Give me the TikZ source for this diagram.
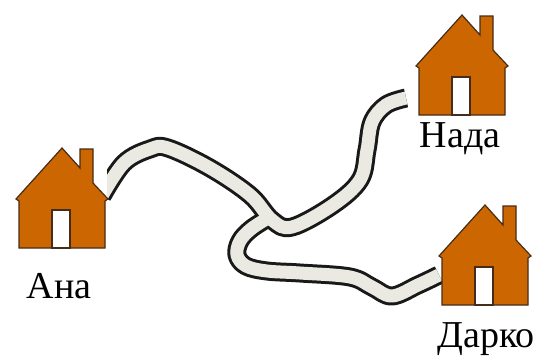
\documentclass[tikz,border=0pt]{standalone}
\usepackage{fontspec}
\setmainfont{Liberation Serif}
\definecolor{roof}{RGB}{204,102,0}
\definecolor{housline}{RGB}{70,45,25}
\definecolor{pavement}{RGB}{234,234,226}
\tikzset{
  housewall/.style={fill=roof, draw=housline, line width=1.2pt, line join=miter},
  doorway/.style={fill=white, draw=housline, line width=1.2pt},
  roadedge/.style={draw=black!90, line width=19pt, line cap=butt, line join=round},
  roadfill/.style={draw=pavement, line width=13pt, line cap=butt, line join=round},
  name label/.style={anchor=base, inner sep=0pt, font=\fontsize{38}{44}\selectfont},
  house/.pic={
    \draw[housewall] (-43,100) -- (-43,53) -- (-46,51) -- (0,0) -- (18,20)
      -- (18,1) -- (31,1) -- (31,35) -- (46,51) -- (43,53) -- (43,100) -- cycle;
    \draw[doorway] (-10,62) rectangle (8,100);
  }
}
\begin{document}
\begin{tikzpicture}[x=1pt, y=-1pt]
  \useasboundingbox (0,0) rectangle (543,357);
  % road ends and the fork
  \coordinate (ana-gate) at (102,196);
  \coordinate (nada-gate) at (406,98);
  \coordinate (darko-gate) at (439,275);
  \coordinate (fork) at (268,218);
  % roads: dark edge first, then the light surface on top
  \begin{scope}
    \clip (107,0) rectangle (543,357);
    \foreach \layer in {roadedge, roadfill} {
      \draw[\layer] plot[smooth, tension=0.6] coordinates {
        (ana-gate) (124,163) (150,149) (168,148) (210,168) (250,195) (272,220)
        (292,227) (333,205) (360,180) (367,150) (372,122) (386,105) (nada-gate)};
      \draw[\layer] plot[smooth, tension=0.6] coordinates {
        (fork) (251,229) (240,241) (237,255) (246,266) (267,271) (300,273)
        (350,277) (372,287) (392,296) (418,285) (darko-gate)};
    }
  \end{scope}
  % houses
  \pic (ana-house) at (62,148) {house};
  \pic (nada-house) at (462,15) {house};
  \pic (darko-house) at (485,205) {house};
  % names
  \node[name label] (ana) at (59,298) {Ана};
  \node[name label] (nada) at (460,147) {Нада};
  \node[name label] (darko) at (486,347) {Дарко};
\end{tikzpicture}
\end{document}
